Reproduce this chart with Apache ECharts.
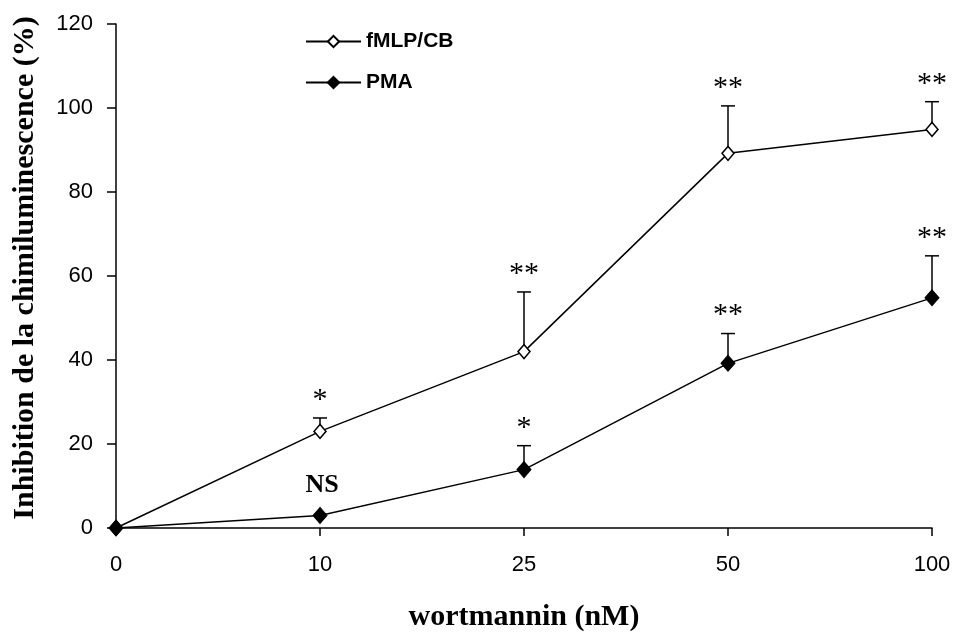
<!DOCTYPE html>
<html>
<head>
<meta charset="utf-8">
<script src="https://cdn.jsdelivr.net/npm/echarts@6/dist/echarts.min.js"></script>
<style>
    html, body { margin: 0; padding: 0; background: #fff; }
    #chart { width: 957px; height: 639px; }
</style>
</head>
<body>
<div id="chart"></div>
<script>
// 浓度 (x 轴类目)
const categories = ['0', '10', '25', '50', '100'];
// fMLP/CB 均值与误差上限
const fmlpMean = [0, 23, 42, 89.2, 94.9];
const fmlpUpper = [0, 26.2, 56.2, 100.5, 101.5];
const fmlpSig = ['', '*', '**', '**', '**'];
// PMA 均值与误差上限
const pmaMean = [0, 3, 13.9, 39.2, 54.8];
const pmaUpper = [0, 3, 19.6, 46.3, 64.8];
const pmaSig = ['', 'NS', '*', '**', '**'];
// y 轴刻度
const yTicks = { min: 0, max: 120, interval: 20 };

const serif = 'Liberation Serif';
const sans = 'Liberation Sans';

function errRows(mean, upper, sig) {
    return categories.map((c, i) => [i, mean[i], upper[i], sig[i]]);
}

function renderErr(params, api) {
    const x = api.value(0);
    const mean = api.value(1);
    const upper = api.value(2);
    const sig = api.value(3);
    const p0 = api.coord([x, mean]);
    const p1 = api.coord([x, upper]);
    const children = [];
    if (upper > mean) {
        children.push({
            type: 'line',
            shape: { x1: p0[0], y1: p0[1], x2: p1[0], y2: p1[1] },
            style: { stroke: '#000', lineWidth: 1.5 }
        });
        children.push({
            type: 'line',
            shape: { x1: p1[0] - 7, y1: p1[1], x2: p1[0] + 7, y2: p1[1] },
            style: { stroke: '#000', lineWidth: 1.5 }
        });
    }
    if (sig) {
        const isNS = sig === 'NS';
        children.push({
            type: 'text',
            x: p1[0] + (isNS ? 2 : 0),
            y: p1[1] - (isNS ? 30 : 18),
            style: {
                text: sig,
                fill: '#000',
                font: (isNS ? 'bold 26px ' : '30px ') + serif,
                textAlign: 'center',
                textVerticalAlign: 'middle'
            }
        });
    }
    return { type: 'group', children: children };
}

const myChart = echarts.init(document.getElementById('chart'), null, { renderer: 'canvas' });

const option = {
    backgroundColor: '#fff',
    animation: false,
    grid: { left: 116, right: 25, top: 24, bottom: 111 },
    legend: {
        orient: 'vertical',
        left: 305,
        top: 31,
        padding: 0,
        itemWidth: 55,
        itemHeight: 14,
        itemGap: 20,
        textStyle: { fontFamily: sans, fontWeight: 'bold', fontSize: 21, color: '#000' },
        data: ['fMLP/CB', 'PMA']
    },
    graphic: [
        {
            type: 'text',
            x: 25,
            y: 268,
            rotation: Math.PI / 2,
            style: {
                text: 'Inhibition de la chimiluminescence (%)',
                font: 'bold 30px ' + serif,
                fill: '#000',
                textAlign: 'center',
                textVerticalAlign: 'middle'
            }
        }
    ],
    xAxis: {
        type: 'category',
        data: categories,
        boundaryGap: false,
        name: 'wortmannin (nM)',
        nameLocation: 'middle',
        nameGap: 74,
        nameTextStyle: { fontFamily: serif, fontWeight: 'bold', fontSize: 30, color: '#000' },
        axisLine: { lineStyle: { color: '#000', width: 1.5 } },
        axisTick: { show: true, length: 8, alignWithLabel: true, lineStyle: { color: '#000', width: 1.5 } },
        axisLabel: { fontFamily: sans, fontSize: 22, color: '#000', margin: 26 },
        splitLine: { show: false }
    },
    yAxis: {
        type: 'value',
        min: yTicks.min,
        max: yTicks.max,
        interval: yTicks.interval,
        axisLine: { show: true, lineStyle: { color: '#000', width: 1.5 } },
        axisTick: { show: true, length: 9, lineStyle: { color: '#000', width: 1.5 } },
        axisLabel: { fontFamily: sans, fontSize: 22, color: '#000', margin: 23 },
        splitLine: { show: false }
    },
    series: [
        {
            type: 'custom',
            name: 'fMLP err',
            renderItem: renderErr,
            data: errRows(fmlpMean, fmlpUpper, fmlpSig),
            encode: { x: 0, y: [1, 2] },
            z: 1,
            silent: true
        },
        {
            type: 'custom',
            name: 'PMA err',
            renderItem: renderErr,
            data: errRows(pmaMean, pmaUpper, pmaSig),
            encode: { x: 0, y: [1, 2] },
            z: 1,
            silent: true
        },
        {
            name: 'fMLP/CB',
            type: 'line',
            data: fmlpMean,
            symbol: 'diamond',
            symbolSize: [12, 14],
            showAllSymbol: true,
            lineStyle: { color: '#000', width: 1.5 },
            itemStyle: { color: '#fff', borderColor: '#000', borderWidth: 1.5 },
            z: 3
        },
        {
            name: 'PMA',
            type: 'line',
            data: pmaMean,
            symbol: 'diamond',
            symbolSize: [14, 16],
            showAllSymbol: true,
            lineStyle: { color: '#000', width: 1.5 },
            itemStyle: { color: '#000', borderColor: '#000', borderWidth: 1 },
            z: 4
        }
    ]
};

myChart.setOption(option);
</script>
</body>
</html>
